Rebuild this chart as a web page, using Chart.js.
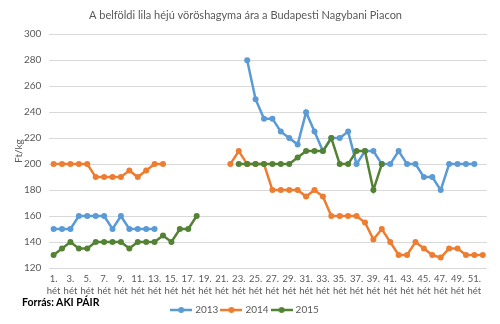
<!DOCTYPE html>
<html>
  <head>
    <meta charset="utf-8">
    <script src="https://cdn.jsdelivr.net/npm/chart.js@4.4.1/dist/chart.umd.min.js"></script>
    <style>
      body {
        margin: 0;
        background: #fff;
      }
      .wrap {
        position: relative;
        width: 500px;
        height: 324px;
      }
      .source {
        position: absolute;
        left: 22px;
        top: 296px;
        font-family: Lato, sans-serif;
        font-size: 10.5px;
        font-weight: bold;
        color: #000;
      }
    </style>
  </head>
  <body>
    <div class="wrap">
      <canvas id="onionChart" width="500" height="324"></canvas>
      <div class="source">Forrás: AKI PÁIR</div>
    </div>
    <script>
      // weekly prices, Ft/kg (null = no quotation that week)
      const weeks = [];
      for (let w = 1; w <= 52; w++) weeks.push(w + '. hét');

      const price2013 = [
        150, 150, 150, 160, 160, 160, 160, 150, 160, 150, 150, 150, 150,
        null, null, null, null, null, null, null, null, null, null,
        280, 250, 235, 235, 225, 220, 215, 240, 225, 210, 220, 220, 225, 200,
        210, 210, 200, 200, 210, 200, 200, 190, 190, 180, 200, 200, 200, 200,
        null
      ];
      const price2014 = [
        200, 200, 200, 200, 200, 190, 190, 190, 190, 195, 190, 195, 200, 200,
        null, null, null, null, null, null, null,
        200, 210, 200, 200, 200, 180, 180, 180, 180, 175, 180, 175, 160, 160,
        160, 160, 155, 142, 150, 140, 130, 130, 140, 135, 130, 128, 135, 135,
        130, 130, 130
      ];
      const price2015 = [
        130, 135, 140, 135, 135, 140, 140, 140, 140, 135, 140, 140, 140, 145,
        140, 150, 150, 160,
        null, null, null, null,
        200, 200, 200, 200, 200, 200, 200, 205, 210, 210, 210, 220, 200, 200,
        210, 210, 180, 200,
        null, null, null, null, null, null, null, null, null, null, null, null
      ];

      const years = ['2013', '2014', '2015'];
      const colors = ['#5B9BD5', '#ED7D31', '#548235'];

      const fontFamily = 'Lato, "Open Sans", sans-serif';
      const textColor = '#595959';

      // small line-with-dot marker for the legend
      function legendMarker(color) {
        const c = document.createElement('canvas');
        c.width = 22;
        c.height = 8;
        const g = c.getContext('2d');
        g.strokeStyle = color;
        g.lineWidth = 2.5;
        g.beginPath();
        g.moveTo(0, 4);
        g.lineTo(22, 4);
        g.stroke();
        g.fillStyle = color;
        g.beginPath();
        g.arc(11, 4, 3, 0, Math.PI * 2);
        g.fill();
        return c;
      }

      function series(label, data, color, order) {
        return {
          label: label,
          data: data,
          borderColor: color,
          backgroundColor: color,
          borderWidth: 2.5,
          pointRadius: 3,
          pointBorderWidth: 0,
          pointBackgroundColor: color,
          tension: 0,
          spanGaps: false,
          order: order
        };
      }

      const ctx = document.getElementById('onionChart');

      new Chart(ctx, {
        type: 'line',
        data: {
          labels: weeks,
          datasets: [
            series(years[0], price2013, colors[0], 3),
            series(years[1], price2014, colors[1], 2),
            series(years[2], price2015, colors[2], 1)
          ]
        },
        options: {
          responsive: false,
          animation: false,
          layout: {
            padding: { left: 4, right: 13, top: 0, bottom: 0 }
          },
          plugins: {
            title: {
              display: true,
              text: 'A belföldi lila héjú vöröshagyma ára a Budapesti Nagybani Piacon',
              color: textColor,
              font: { family: fontFamily, size: 11, weight: 'normal' },
              padding: { top: 9, bottom: 12 }
            },
            legend: {
              position: 'bottom',
              maxHeight: 23,
              labels: {
                color: textColor,
                font: { family: fontFamily, size: 10 },
                usePointStyle: true,
                pointStyleWidth: 18,
                padding: 4,
                sort: (a, b) => a.datasetIndex - b.datasetIndex,
                generateLabels: function(chart) {
                  const items = Chart.defaults.plugins.legend.labels.generateLabels(chart);
                  items.forEach(it => {
                    it.pointStyle = legendMarker(colors[it.datasetIndex]);
                  });
                  return items;
                }
              }
            },
            tooltip: { enabled: false }
          },
          scales: {
            x: {
              offset: true,
              grid: { display: false },
              border: { display: false },
              afterFit: function(scale) {
                scale.height = 33;
              },
              ticks: {
                autoSkip: false,
                maxRotation: 0,
                minRotation: 0,
                padding: -3,
                color: textColor,
                font: { family: fontFamily, size: 9.5, lineHeight: 1.26 },
                callback: function(value, index) {
                  if (index % 2 !== 0) return '';
                  return this.getLabelForValue(value).split(' ');
                }
              }
            },
            y: {
              min: 120,
              max: 300,
              grid: { color: '#d9d9d9', drawTicks: false },
              border: { display: false },
              ticks: {
                stepSize: 20,
                padding: 8,
                color: textColor,
                font: { family: fontFamily, size: 10 }
              },
              title: {
                display: true,
                text: 'Ft/kg',
                color: textColor,
                font: { family: fontFamily, size: 10 },
                padding: { top: 9, bottom: -9 }
              }
            }
          }
        }
      });
    </script>
  </body>
</html>
